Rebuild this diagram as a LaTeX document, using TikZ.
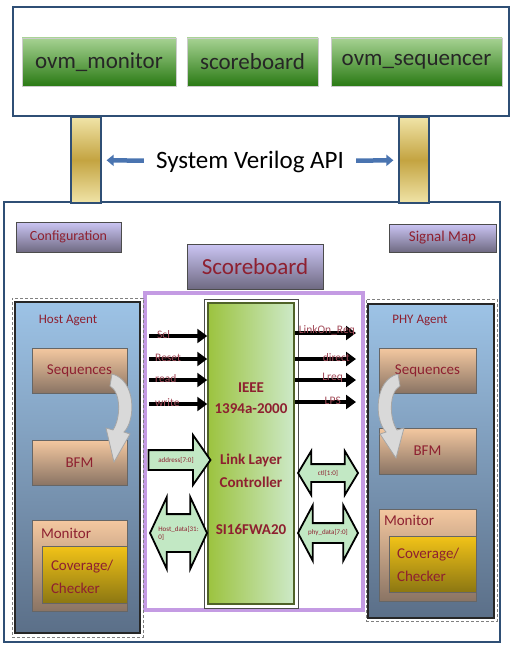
\documentclass[tikz,border=0pt]{standalone}
\usepackage{fontspec}
\setmainfont{Carlito}
\usetikzlibrary{shapes.arrows,arrows.meta}

\definecolor{frameblue}{HTML}{2F4F75}
\definecolor{labelred}{HTML}{8E2030}
\definecolor{ovmlight}{HTML}{A6D292}
\definecolor{ovmdark}{HTML}{2A7A14}
\definecolor{goldlight}{HTML}{F0E4A8}
\definecolor{golddark}{HTML}{C4A441}
\definecolor{apiblue}{HTML}{4A74B0}
\definecolor{lavlight}{HTML}{CBC5F4}
\definecolor{lavdark}{HTML}{6F6A82}
\definecolor{agentlight}{HTML}{9DC3E6}
\definecolor{agentdark}{HTML}{5B6F88}
\definecolor{peachlight}{HTML}{F4C8A0}
\definecolor{peachdark}{HTML}{8A7464}
\definecolor{covlight}{HTML}{F2C318}
\definecolor{covdark}{HTML}{8C7712}
\definecolor{chipleft}{HTML}{9CC33F}
\definecolor{chipright}{HTML}{CDE9C8}
\definecolor{chipedge}{HTML}{4F6228}
\definecolor{purpleedge}{HTML}{C49BE3}
\definecolor{busgreen}{HTML}{C2E8C4}

\begin{document}
\begin{tikzpicture}[x=1pt,y=-1pt,
    sz/.style n args={2}{minimum width=#1pt,minimum height=#2pt},
    frame/.style={draw=frameblue,line width=1.2pt,fill=white,inner sep=0pt},
    ovm/.style={draw=gray!40,top color=ovmlight,bottom color=ovmdark,inner sep=0pt,
        text=black!85,font=\fontsize{23}{27}\selectfont},
    pillar/.style={draw=frameblue,line width=1.2pt,top color=goldlight,bottom color=goldlight,
        middle color=golddark,inner sep=0pt},
    api/.style={line width=4.5pt,draw=apiblue,-{Triangle[length=7pt,width=11pt]}},
    tag/.style={draw=gray!60!black,top color=lavlight,bottom color=lavdark,text=labelred,inner sep=0pt},
    agentframe/.style={draw=gray,densely dashed,thin,inner sep=0pt},
    agent/.style={draw=black!85,line width=2.5pt,top color=agentlight,bottom color=agentdark,inner sep=0pt},
    part/.style={draw=black!60,top color=peachlight,bottom color=peachdark,text=labelred,
        inner sep=0pt,font=\fontsize{15}{18}\selectfont},
    cov/.style={draw=black!60,top color=covlight,bottom color=covdark,inner sep=0pt},
    lbl/.style={text=labelred,inner sep=0pt,font=\fontsize{15}{23}\selectfont},
    sig/.style={line width=4.5pt,-{Triangle[length=10pt,width=14pt]}},
    siglbl/.style={text=labelred!80,inner sep=0pt,font=\fontsize{11.5}{12}\selectfont},
    bus/.style={draw=black,line width=1.8pt,fill=busgreen,inner xsep=0pt},
    buslbl/.style={text=labelred,inner sep=0pt,font=\fontsize{7}{8}\selectfont},
    turn/.style={draw=gray!70,fill=gray!30,line width=0.8pt}]
\useasboundingbox (0,0) rectangle (514,647);

% top: ovm components
\node[frame,sz={496}{109}] (ovmbox) at (261,61.5) {};
\node[ovm,sz={154}{48}] (ovmmon) at (99,62) {ovm\_monitor};
\node[ovm,sz={131}{48}] (ovmsb) at (252.5,62) {scoreboard};
\node[ovm,sz={171}{48}] (ovmseq) at (416.5,62) {ovm\_sequencer};

% bottom: testbench
\node[frame,sz={496}{440}] (tb) at (252,422) {};
\node[pillar,sz={30}{86}] (pilL) at (86,160) {};
\node[pillar,sz={30}{86}] (pilR) at (414,160) {};
\node[inner sep=0pt,font=\fontsize{25}{30}\selectfont] (api) at (250,162) {System Verilog API};
\draw[api,shorten <=12pt,shorten >=5pt] (api) -- (pilL);
\draw[api,shorten <=12pt,shorten >=5pt] (api) -- (pilR);

\node[tag,sz={105}{30},font=\fontsize{14}{17}\selectfont] (config) at (68.5,237) {Configuration};
\node[tag,sz={107}{28},font=\fontsize{15}{18}\selectfont] (sigmap) at (442.5,238) {Signal Map};
\node[tag,sz={136}{45},font=\fontsize{23}{27}\selectfont] (sbtitle) at (255,266.5) {Scoreboard};

% DUT
\node[draw=purpleedge,line width=3.5pt,fill=white,sz={218}{317}] (dutarea) at (254,451.5) {};
\node[draw=black!70,thin,sz={94}{309}] (chipframe) at (251,453.5) {};
\node[draw=chipedge,line width=1.5pt,left color=chipleft,right color=chipright,sz={86}{301}] (chip) at (251,453.5) {};
\node[text=labelred,align=center,inner sep=0pt,font=\bfseries\fontsize{15}{21}\selectfont] (chiptxt) at (251,459)
    {IEEE\\1394a-2000\\[30pt]Link Layer\\[2pt]Controller\\[26pt]SI16FWA20};

% host agent
\node[agentframe,sz={131}{339}] (hostframe) at (77.5,467.5) {};
\node[agent,sz={125}{331}] (host) at (77.5,467.5) {};
\node[lbl,font=\fontsize{13}{15}\selectfont] (hosttxt) at (68,320) {Host Agent};
\node[part,sz={95}{45}] (hseq) at (79.5,370.5) {Sequences};
\node[part,sz={95}{45}] (hbfm) at (79.5,462.5) {BFM};
\node[part,sz={95}{91}] (hmon) at (79.5,565.5) {};
\node[lbl,anchor=north west] (hmontxt) at ([xshift=9pt,yshift=-8pt]hmon.north west) {Monitor};
\node[cov,sz={85}{57}] (hcov) at (84.5,574.5) {};
\node[lbl,anchor=west,align=left] (hcovtxt) at ([xshift=9pt,yshift=-2pt]hcov.west) {Coverage/\\Checker};
\draw[turn] (112,374) .. controls (136,380) and (136,420) .. (124,432) -- (130,434) -- (114,462)
    -- (106,428) -- (113,430) .. controls (121,418) and (121,392) .. (110,386) -- cycle;

% PHY agent
\node[agentframe,sz={131}{322}] (phyframe) at (431.5,460) {};
\node[agent,sz={126}{314}] (phy) at (431,461) {};
\node[lbl,font=\fontsize{13}{15}\selectfont] (phytxt) at (420,320) {PHY Agent};
\node[part,sz={97}{45}] (pseq) at (427.5,370.5) {Sequences};
\node[part,sz={97}{46}] (pbfm) at (427.5,451) {BFM};
\node[part,sz={97}{92}] (pmon) at (427.5,555) {};
\node[lbl,anchor=north west] (pmontxt) at ([xshift=5pt,yshift=-6pt]pmon.north west) {Monitor};
\node[cov,sz={87}{56}] (pcov) at (432.5,564) {};
\node[lbl,anchor=west,align=left] (pcovtxt) at ([xshift=8pt,yshift=-1pt]pcov.west) {Coverage/\\Checker};
\draw[turn] (398,374) .. controls (374,380) and (374,420) .. (386,432) -- (380,434) -- (396,458)
    -- (404,428) -- (397,430) .. controls (389,418) and (389,392) .. (400,386) -- cycle;

% control signals
\coordinate (in1) at (149,336);
\coordinate (in2) at (149,359);
\coordinate (in3) at (149,380);
\coordinate (in4) at (149,404);
\coordinate (out1) at (356,333);
\coordinate (out2) at (356,359);
\coordinate (out3) at (356,380);
\coordinate (out4) at (356,402);
\foreach \s in {1,...,4} {
    \draw[sig] (in\s) -- (in\s -| chip.west);
    \draw[sig] (out\s -| chip.east) -- (out\s);
}
\node[siglbl,anchor=south west] (lscl) at (157,339) {Scl};
\node[siglbl,anchor=south west] (lreset) at (155,362) {Reset};
\node[siglbl,anchor=south west] (lread) at (155,383) {read};
\node[siglbl,anchor=south west] (lwrite) at (155,407) {write};
\node[siglbl,anchor=south east] (llinkon) at (355,336) {LinkOn\_Req};
\node[siglbl,anchor=south east] (ldirect) at (350,362) {direct};
\node[siglbl,anchor=south east] (llreq) at (343,383) {Lreq};
\node[siglbl,anchor=south east] (llps) at (341,405) {LPS};

% data buses
\node[bus,single arrow,inner ysep=9pt,single arrow head extend=15pt,single arrow tip angle=110,
    minimum height=62pt] (addr) at (176,460) {};
\node[buslbl] (addrtxt) at (addr.center) {address[7:0]};
\node[bus,double arrow,inner ysep=18pt,double arrow head extend=17pt,double arrow tip angle=130,
    minimum height=57pt] (hdata) at (178.5,533) {};
\node[buslbl,align=left] (hdatatxt) at (hdata.center) {Host\_data[31:\\0]};
\node[bus,double arrow,inner ysep=8pt,double arrow head extend=13pt,double arrow tip angle=118,
    minimum height=60pt] (ctl) at (328,473) {};
\node[buslbl] (ctltxt) at (ctl.center) {ctl[1:0]};
\node[bus,double arrow,inner ysep=9pt,double arrow head extend=18pt,double arrow tip angle=124,
    minimum height=60pt] (phyd) at (328,533) {};
\node[buslbl] (phydtxt) at (phyd.center) {phy\_data[7:0]};
\end{tikzpicture}
\end{document}
